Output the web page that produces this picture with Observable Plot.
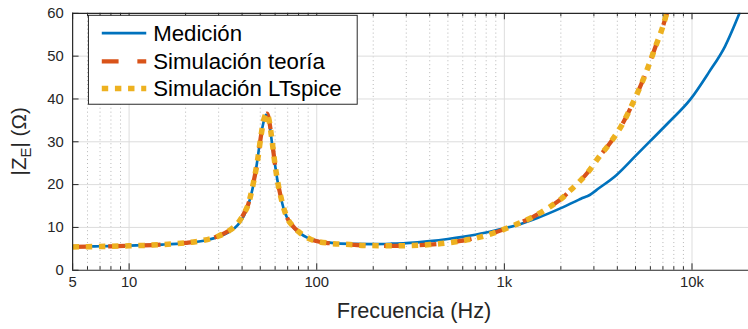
<!DOCTYPE html>
<html><head><meta charset="utf-8">
<script src="https://cdn.jsdelivr.net/npm/d3@7"></script>
<script src="https://cdn.jsdelivr.net/npm/@observablehq/plot@0.6"></script>
<style>
html,body{margin:0;padding:0;background:#fff;overflow:hidden;}
#chart{position:relative;width:748px;height:329px;overflow:hidden;}
</style></head><body><div id="chart"></div>
<script>
// ---- data ----
const medFreq = [5,6,7,8,10,12,15,20,25,30,34,38,41,44,46,48,50,52,53.5,55,56.5,58,60,62,64,67,70,75,80,90,100,120,150,200,250,300,400,500,600,700,800,1000,1200,1500,2000,2500,2650,2800,3200,3950,5000,6000,7500,9800,12250,15000,17900];
const medZ    = [5.5,5.55,5.6,5.65,5.75,5.85,6.0,6.35,6.9,7.8,8.9,10.6,12.8,16.5,20,25,30.5,34.5,36.3,36.0,33,29,24.5,20.5,17.5,14,12,10,8.9,7.5,6.9,6.4,6.15,6.1,6.2,6.35,6.8,7.3,7.8,8.3,8.8,9.8,10.7,12.2,14.5,16.5,17.0,17.4,19.2,22.2,26.7,30.2,34.5,39.9,46.1,52.3,60];

const teoFreq = [5,6,7,8,10,12,15,20,25,30,34,38,41,43,46,48.5,50.5,52.5,54.3,56,57.5,60,62,64,67,70,75,80,92,117,150,180,270,400,500,600,750,850,1000,1200,1400,1760,2000,2240,2500,2800,3200,3600,4300,4940,5680,6400,7000,7350];
const teoZ    = [5.45,5.5,5.55,5.6,5.7,5.8,6.0,6.4,7.0,8.0,9.2,11.0,13.3,15.2,20.5,26,31.5,35.5,36.6,34.5,31,24.5,20.5,17.6,14.2,12,10.2,9.0,7.3,6.3,6.0,5.8,5.7,6.0,6.4,6.9,7.8,8.5,9.6,11.0,12.3,14.9,16.6,18.6,20.6,23.0,26.5,29.3,34.5,39.9,46.1,52.3,57,60];

const ltsFreq = [5,6,7,8,10,12,15,20,25,30,34,38,41,43,46,48.5,50.5,52.5,54.3,56,57.5,60,62,64,67,70,75,80,92,117,150,180,270,400,500,600,750,850,1000,1200,1400,1760,2000,2240,2500,2800,3200,3600,4300,4940,5680,6400,7000,7300];
const ltsZ    = [5.45,5.5,5.55,5.6,5.7,5.8,6.0,6.4,7.0,8.0,9.2,11.0,13.3,15.2,20.5,26,31.5,35.5,36.6,34.5,31,24.5,20.5,17.6,14.2,12,10.2,9.0,7.3,6.3,6.0,5.8,5.7,6.0,6.4,6.9,7.8,8.5,9.6,11.0,12.3,14.9,16.6,18.6,20.6,23.0,26.5,29.3,34.5,39.9,46.1,52.3,57,59.8];

const seriesNames  = ["Medición", "Simulación teoría", "Simulación LTspice"];
const seriesColors = ["#0072BD", "#D95319", "#EDB120"];

const xMajor       = [5, 10, 100, 1000, 10000];
const xMajorLabels = ["5", "10", "100", "1k", "10k"];
const xMinor       = [6,7,8,9,20,30,40,50,60,70,80,90,200,300,400,500,600,700,800,900,2000,3000,4000,5000,6000,7000,8000,9000];
const yTicks       = [0, 10, 20, 30, 40, 50, 60];

const xTitle = "Frecuencia (Hz)";

// ---- layout ----
const W = 757, H = 329, mL = 73, mR = 0, mT = 13, mB = 56;
const fw = W - mL - mR, fh = H - mT - mB;
const FONT = "'Liberation Sans', Arial, Helvetica, sans-serif";
const INK = "#262626";

const styles = [
  {strokeWidth: 2.7, strokeDasharray: null, strokeLinecap: "round"},
  {strokeWidth: 4.3, strokeDasharray: "17,19", strokeLinecap: "butt"},
  {strokeWidth: 5.6, strokeDasharray: "6.5,6.8", strokeLinecap: "butt"}
];

const toRows = (fs, zs) => fs.map((f, i) => ({f, z: zs[i]}));
const seriesData = [toRows(medFreq, medZ), toRows(teoFreq, teoZ), toRows(ltsFreq, ltsZ)];

function decorations(index, scales, values, dimensions) {
  const g = d3.create("svg:g").attr("font-family", FONT);
  // y axis title with subscript
  const yt = g.append("text")
    .attr("transform", `translate(26,${mT + fh / 2}) rotate(-90)`)
    .attr("text-anchor", "middle").attr("fill", INK).attr("font-size", 21);
  yt.append("tspan").text("|Z");
  yt.append("tspan").attr("font-size", 15).attr("dy", 5).text("E");
  yt.append("tspan").attr("dy", -5).text("| (Ω)");
  // x axis title
  g.append("text")
    .attr("x", mL + fw / 2 + 4).attr("y", H - 7)
    .attr("text-anchor", "middle").attr("fill", INK).attr("font-size", 22)
    .text(xTitle);
  // legend
  const bx = mL + 16, by = mT + 2, bw = 272, bh = 90;
  const lg = g.append("g").attr("transform", `translate(${bx},${by})`);
  lg.append("rect").attr("x", 0.5).attr("y", 0.5).attr("width", bw).attr("height", bh)
    .attr("fill", "#fff").attr("stroke", INK).attr("stroke-width", 1);
  const rowsY = [18.5, 47, 74.5];
  seriesNames.forEach((name, i) => {
    const s = styles[i];
    lg.append("line").attr("x1", 14).attr("x2", 59).attr("y1", rowsY[i]).attr("y2", rowsY[i])
      .attr("stroke", seriesColors[i]).attr("stroke-width", s.strokeWidth)
      .attr("stroke-dasharray", s.strokeDasharray).attr("stroke-linecap", "butt");
    lg.append("text").attr("x", 66).attr("y", rowsY[i]).attr("dy", "0.35em")
      .attr("text-anchor", "start")
      .attr("font-size", 22.5).attr("fill", "#000").text(name);
  });
  return g.node();
}

const chart = Plot.plot({
  width: W, height: H,
  marginLeft: mL, marginRight: mR, marginTop: mT, marginBottom: mB,
  style: {fontFamily: FONT, background: "#fff"},
  x: {type: "log", domain: [5, 20000], axis: null},
  y: {domain: [0, 60], axis: null},
  marks: [
    // grid
    Plot.ruleX(xMinor, {x: d => d, stroke: "#b5b5b5", strokeWidth: 1, strokeDasharray: "1,3"}),
    Plot.ruleX(xMajor.slice(1), {x: d => d, stroke: "#dcdcdc", strokeWidth: 1}),
    Plot.ruleY(yTicks.slice(1, -1), {y: d => d, stroke: "#dcdcdc", strokeWidth: 1}),
    // curves
    ...seriesData.map((rows, i) => Plot.line(rows, {
      x: "f", y: "z", stroke: seriesColors[i], curve: "monotone-x", clip: true,
      strokeWidth: styles[i].strokeWidth,
      strokeDasharray: styles[i].strokeDasharray,
      strokeLinecap: styles[i].strokeLinecap, strokeLinejoin: "round"
    })),
    // axes box
    Plot.ruleY([0, 60], {y: d => d, stroke: INK, strokeWidth: 1.2}),
    Plot.ruleX([5], {x: d => d, stroke: INK, strokeWidth: 1.2}),
    // ticks (inward)
    Plot.tickX(xMajor, {x: d => d, stroke: INK, insetTop: fh - 6.5}),
    Plot.tickX(xMajor, {x: d => d, stroke: INK, insetBottom: fh - 6.5}),
    Plot.tickX(xMinor, {x: d => d, stroke: INK, insetTop: fh - 3.5}),
    Plot.tickX(xMinor, {x: d => d, stroke: INK, insetBottom: fh - 3.5}),
    Plot.tickY(yTicks, {y: d => d, stroke: INK, insetRight: fw - 6.5}),
    // tick labels
    Plot.text(xMajor, {x: d => d, text: (d, i) => xMajorLabels[i], frameAnchor: "bottom", dy: 17,
      fontSize: 15, fill: INK, fontFamily: FONT}),
    Plot.text(yTicks, {y: d => d, text: d => String(d), frameAnchor: "left", dx: -9, textAnchor: "end",
      fontSize: 15, fill: INK, fontFamily: FONT}),
    decorations
  ]
});
document.getElementById("chart").appendChild(chart);
</script>
</body></html>
